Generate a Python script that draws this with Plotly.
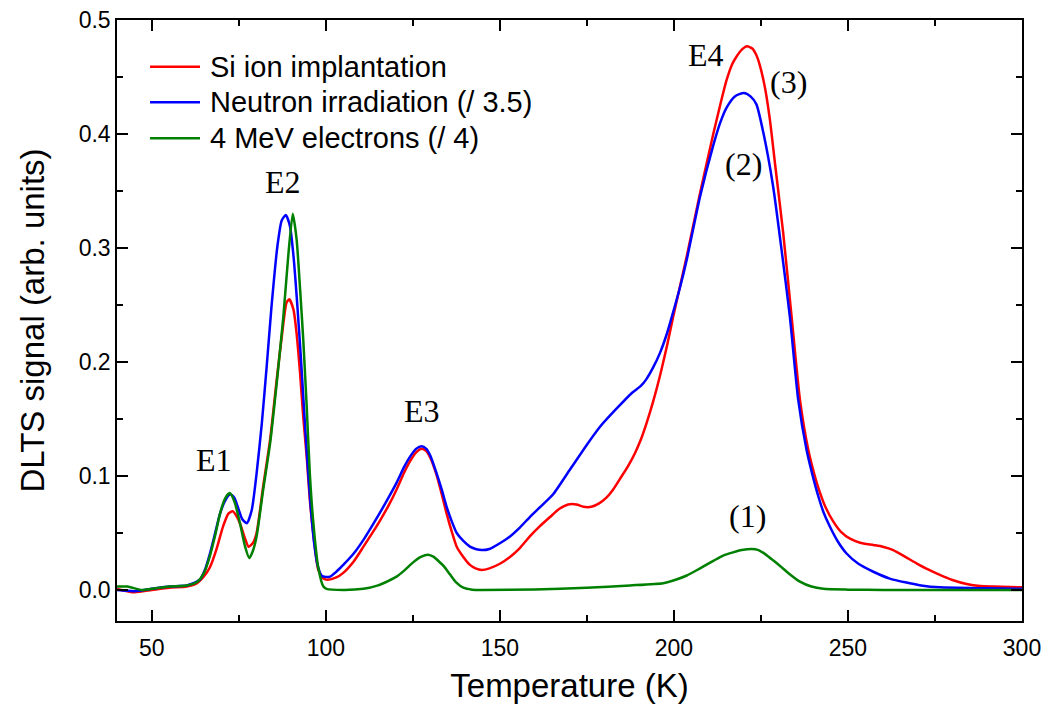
import plotly.graph_objects as go

# ---- data ----
si_T = [40, 45, 50, 55, 60, 63, 65, 66.7, 68.5, 70.5, 72, 73.2, 74.5, 75.5, 76.8, 77.8, 79, 80.1,
        82.0, 84.0, 85.9, 87.8, 88.7, 89.5, 90.7, 91.6, 92.6, 93.5, 94.5, 95.4, 96.6, 97.8, 99.3,
        100.5, 103, 105, 108, 110.8, 115, 118, 120.3, 122.5, 124.2, 126, 127.5, 128.8, 130, 131.8,
        133.3, 134.7, 136.2, 137.6, 139.5, 141.4, 143, 144.8, 147, 150, 152.9, 155.8, 158.6, 161.5,
        164.4, 167, 169.6, 172, 174, 176.3, 178.5, 180.6, 182.5, 184.5, 186.7, 188.8, 190.5, 192.1,
        194, 196, 198, 199.8, 203.7, 207.5, 211.3, 213.5, 215.1, 216.7, 218, 219.5, 221, 222.5,
        223.7, 224.7, 226.2, 227.6, 229, 231.4, 233.8, 236.2, 238.6, 240.3, 242, 243.8, 245.8, 248,
        250.6, 253.5, 257.3, 260, 263, 266.5, 269.7, 273, 276.4, 280, 284.1, 288, 292, 300]
si_V = [0.001, -0.002, 0.0, 0.002, 0.003, 0.006, 0.012, 0.020, 0.035, 0.056, 0.067, 0.069, 0.064,
        0.057, 0.045, 0.038, 0.041, 0.050, 0.091, 0.132, 0.185, 0.234, 0.252, 0.255, 0.246, 0.225,
        0.190, 0.152, 0.117, 0.079, 0.044, 0.018, 0.010, 0.009, 0.011, 0.015, 0.025, 0.038, 0.058,
        0.074, 0.088, 0.103, 0.113, 0.121, 0.124, 0.122, 0.116, 0.101, 0.084, 0.067, 0.051, 0.038,
        0.029, 0.022, 0.019, 0.0176, 0.019, 0.023, 0.029, 0.037, 0.047, 0.056, 0.064, 0.071, 0.075,
        0.075, 0.073, 0.073, 0.076, 0.081, 0.088, 0.0975, 0.108, 0.120, 0.132, 0.146, 0.165, 0.188,
        0.214, 0.240, 0.293, 0.348, 0.400, 0.428, 0.447, 0.461, 0.468, 0.474, 0.477, 0.475, 0.469,
        0.460, 0.440, 0.412, 0.375, 0.313, 0.240, 0.167, 0.123, 0.102, 0.085, 0.071, 0.060, 0.051,
        0.045, 0.0415, 0.0395, 0.038, 0.035, 0.029, 0.0234, 0.018, 0.0132, 0.0088, 0.0053, 0.0035,
        0.003, 0.0023]

neu_T = [40, 45, 50, 55, 60, 62, 63.8, 65.3, 66.7, 68.2, 69.6, 71, 72.5, 73.7, 74.8, 76, 77.3, 78.7,
         80.1, 81.6, 83.0, 84.4, 86.1, 87.3, 88.5, 89.7, 90.7, 91.8, 92.8, 93.7, 94.6, 95.6, 96.6,
         97.6, 98.8, 100, 101.2, 103, 105, 108, 110.8, 115, 118, 120.3, 122.5, 124.2, 126, 127.5,
         128.8, 130, 131.8, 133.3, 134.7, 136.2, 137.6, 139.5, 141.4, 143, 144.8, 147, 150, 152.9,
         155.8, 158.6, 162, 165.3, 170, 174.9, 179, 183.5, 188, 190.5, 192.1, 194, 196, 198, 199.8,
         201.8, 203.7, 207.5, 211.3, 213.3, 215.1, 217.5, 220.1, 222, 223.7, 225.7, 228.5, 230.9,
         233.3, 235.7, 238.1, 239.8, 241.5, 243, 244.8, 247, 249.6, 253, 257.3, 262, 266.8, 271,
         276.4, 290, 300]
neu_V = [0.0, -0.001, 0.001, 0.003, 0.004, 0.006, 0.009, 0.018, 0.032, 0.050, 0.067, 0.078, 0.084,
         0.081, 0.072, 0.062, 0.0586, 0.070, 0.102, 0.146, 0.196, 0.249, 0.302, 0.324, 0.329, 0.319,
         0.293, 0.250, 0.205, 0.160, 0.117, 0.075, 0.042, 0.022, 0.0125, 0.0115, 0.0117, 0.016,
         0.022, 0.032, 0.044, 0.065, 0.081, 0.094, 0.108, 0.117, 0.124, 0.126, 0.124, 0.118, 0.1025,
         0.088, 0.073, 0.060, 0.050, 0.043, 0.038, 0.036, 0.035, 0.036, 0.041, 0.047, 0.055, 0.064,
         0.074, 0.084, 0.105, 0.127, 0.144, 0.159, 0.173, 0.179, 0.185, 0.195, 0.208, 0.225, 0.244,
         0.266, 0.290, 0.345, 0.390, 0.410, 0.423, 0.433, 0.436, 0.433, 0.426, 0.401, 0.354, 0.299,
         0.240, 0.167, 0.123, 0.101, 0.082, 0.068, 0.0557, 0.043, 0.032, 0.023, 0.016, 0.010, 0.0065,
         0.004, 0.0023, 0.0015, 0.001]

ele_T = [40, 43, 47, 50, 55, 60, 63, 65, 66.7, 68.2, 69.6, 71, 72.4, 73.8, 75.3, 76.8, 78.0, 79,
         80.1, 82.0, 84.0, 85.9, 87.8, 89.2, 90.5, 91.6, 92.6, 93.5, 94.5, 95.4, 96.4, 97.8, 99.3,
         100.2, 105, 110.8, 115, 118, 120.3, 122.5, 125, 127.3, 129.4, 131, 132.5, 134, 135.7, 137.5,
         139.5, 142, 145, 160, 174.9, 187.4, 196.9, 200.5, 203.7, 207.5, 211.3, 214, 217, 219.5,
         222.3, 224.3, 226.4, 228.5, 230.5, 233, 236.2, 239.5, 242.9, 250, 260, 300]
ele_V = [0.003, 0.003, 0.0, 0.001, 0.003, 0.004, 0.007, 0.015, 0.030, 0.048, 0.067, 0.080, 0.085,
         0.077, 0.059, 0.038, 0.028, 0.034, 0.047, 0.088, 0.129, 0.182, 0.240, 0.293, 0.330, 0.3075,
         0.264, 0.220, 0.161, 0.102, 0.059, 0.020, 0.003, 0.001, 0.0, 0.001, 0.004, 0.008, 0.0117,
         0.017, 0.024, 0.029, 0.031, 0.029, 0.025, 0.0205, 0.0135, 0.0065, 0.002, 0.0003, 0.0, 0.0005,
         0.002, 0.004, 0.006, 0.009, 0.0127, 0.019, 0.0255, 0.030, 0.033, 0.035, 0.036, 0.035, 0.031,
         0.026, 0.021, 0.0145, 0.0073, 0.003, 0.001, 0.0003, 0.0, 0.0]

series_names = ["Si ion implantation", "Neutron irradiation (/ 3.5)", "4 MeV electrons (/ 4)"]
series_colors = ["#ff0000", "#0000ff", "#008000"]

peak_labels = ["E1", "E2", "E3", "E4", "(3)", "(2)", "(1)"]
peak_T = [68.0, 87.8, 127.6, 209.2, 233.0, 220.1, 221.0]
peak_V = [0.114, 0.358, 0.157, 0.469, 0.446, 0.374, 0.065]

fig = go.Figure()
series = [(si_T, si_V), (neu_T, neu_V), (ele_T, ele_V)]
for (T, V), name, col in zip(series, series_names, series_colors):
    fig.add_trace(go.Scatter(x=T, y=V, mode="lines", name=name, showlegend=False,
                             line=dict(color=col, width=2.5, shape="spline", smoothing=0.6)))

for lab, tx, ty in zip(peak_labels, peak_T, peak_V):
    fig.add_annotation(x=tx, y=ty, text=lab, showarrow=False,
                       font=dict(family="Liberation Serif", size=32, color="black"))

# legend (drawn in paper coordinates, top-left of plot)
leg_rows = [0.9223, 0.8631, 0.8032]
for name, col, yy in zip(series_names, series_colors, leg_rows):
    fig.add_shape(type="line", xref="paper", yref="paper", x0=0.0365, x1=0.0917, y0=yy, y1=yy,
                  line=dict(color=col, width=2.5))
    fig.add_annotation(xref="paper", yref="paper", x=0.1006, y=yy, text=name, showarrow=False,
                       xanchor="left", yanchor="middle",
                       font=dict(family="Liberation Sans", size=29, color="black"))

axis_common = dict(showline=True, linecolor="black", linewidth=1.5, mirror="ticks",
                   ticks="inside", ticklen=11, tickwidth=1.5, tickcolor="black",
                   showgrid=False, zeroline=False, automargin=False,
                   tickfont=dict(family="Liberation Sans", size=23, color="black"))

fig.update_xaxes(range=[40, 300], tick0=0, dtick=50, ticklabelstandoff=6, **axis_common,
                 minor=dict(ticks="inside", ticklen=6, dtick=25, tickcolor="black", tickwidth=1.5),
                 title=dict(text="Temperature (K)", standoff=14,
                            font=dict(family="Liberation Sans", size=33, color="black")))
fig.update_yaxes(range=[-0.0272, 0.5], tick0=0, dtick=0.1, tickformat=".1f", **axis_common,
                 minor=dict(ticks="inside", ticklen=6, dtick=0.05, tickcolor="black", tickwidth=1.5),
                 title=dict(text="DLTS signal (arb. units)", standoff=24,
                            font=dict(family="Liberation Sans", size=33, color="black")))

fig.update_layout(
    width=1045, height=714,
    margin=dict(l=117, r=23, t=20, b=93),
    plot_bgcolor="white", paper_bgcolor="white",
    showlegend=False,
)

fig.write_html("out.html")
